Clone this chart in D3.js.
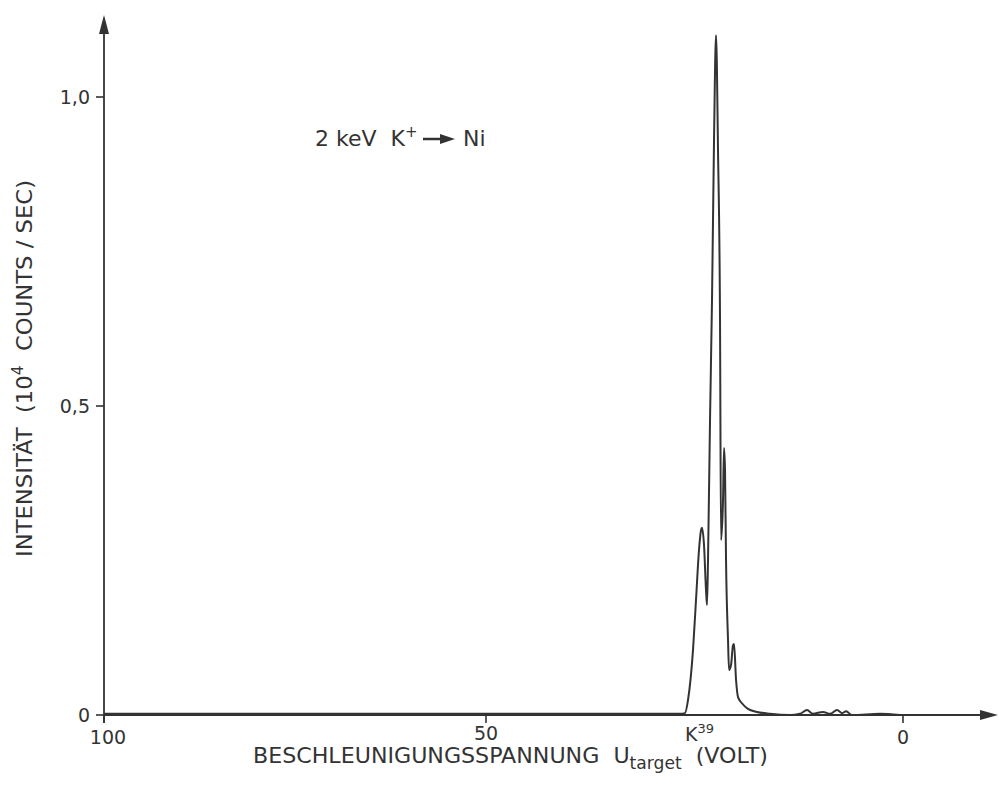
<!DOCTYPE html><meta charset="utf-8">
<title>2 keV K+ -> Ni</title>
<style>
  body{margin:0;background:#fff}
  svg{display:block}
  text{font-family:"DejaVu Sans",sans-serif;fill:#333;white-space:pre}
</style>
<script src="https://d3js.org/d3.v7.min.js"></script>
<body><script>
// accelerating voltage U_target (V)
const voltage = [100, 80, 60, 40, 30, 26.74, 26.14, 25.78, 25.18, 24.82, 24.46, 24.22, 24.10,
  23.86, 23.62, 23.50, 23.38, 23.14, 22.90, 22.66, 22.42, 22.18, 21.94, 21.82, 21.58, 21.46,
  21.34, 21.22, 20.98, 20.86, 20.62, 20.38, 20.26, 20.02, 19.78, 19.31, 18.59, 17.51, 15.95,
  13.55, 12.35, 11.51, 10.79, 9.59, 8.75, 7.91, 7.31, 6.83, 6.12, 2.76, 0.36];
// intensity (10^4 counts/sec)
const intensity = [0.002, 0.002, 0.002, 0.002, 0.002, 0.002, 0.003, 0.024, 0.105, 0.186, 0.267, 0.299, 0.303,
  0.275, 0.202, 0.178, 0.251, 0.477, 0.672, 0.930, 1.100, 0.913, 0.639, 0.283, 0.348, 0.432,
  0.396, 0.251, 0.121, 0.073, 0.081, 0.113, 0.115, 0.057, 0.029, 0.019, 0.010, 0.005, 0.002,
  0.000, 0.002, 0.008, 0.002, 0.005, 0.002, 0.008, 0.003, 0.006, 0.000, 0.002, 0.000];

const xTicks = [100, 50, 0];
const yTicks = [0, 0.5, 1.0];
const yTickLabels = ["0", "0,5", "1,0"];

const W = 999, H = 793, ink = "#333";
const svg = d3.select("body").append("svg").attr("width", W).attr("height", H);

// the scanned axis is not quite linear, so use a polylinear scale
const x = d3.scaleLinear().domain([100, 50, 0]).range([104, 486, 903]);
const y = d3.scaleLinear().domain([0, 1]).range([715, 97]);

/* ---- axes with arrows ---- */
svg.append("line").attr("x1", x(100)).attr("x2", 984).attr("y1", y(0)).attr("y2", y(0))
  .attr("stroke", ink).attr("stroke-width", 1.8);
svg.append("path").attr("d", `M998,${y(0)} L980,${y(0)-5} L980,${y(0)+5} Z`).attr("fill", ink);
svg.append("line").attr("x1", x(100)).attr("x2", x(100)).attr("y1", y(0)+8).attr("y2", 30)
  .attr("stroke", ink).attr("stroke-width", 1.8);
svg.append("path").attr("d", `M${x(100)},15 L${x(100)-5},34 L${x(100)+5},34 Z`).attr("fill", ink);

// x ticks (down)
svg.selectAll(".xt").data(xTicks).enter().append("line")
  .attr("x1", d=>x(d)).attr("x2", d=>x(d)).attr("y1", y(0)).attr("y2", y(0)+8)
  .attr("stroke", ink).attr("stroke-width", 1.6);
svg.selectAll(".xl").data(xTicks).enter().append("text")
  .attr("x", d=>x(d) + (d===100 ? 4 : 0)).attr("y", d=>d===50 ? 740 : 744)
  .attr("text-anchor", "middle").attr("font-size", 19).text(d=>d);

// y ticks (left)
svg.selectAll(".yt").data(yTicks).enter().append("line")
  .attr("x1", x(100)-8).attr("x2", x(100)).attr("y1", d=>y(d)).attr("y2", d=>y(d))
  .attr("stroke", ink).attr("stroke-width", 1.6);
svg.selectAll(".yl").data(yTicks).enter().append("text")
  .attr("x", x(100)-14).attr("y", d=>y(d)+7)
  .attr("text-anchor", "end").attr("font-size", 19).text((d,i)=>yTickLabels[i]);

/* ---- trace ---- */
const pts = voltage.map((v,i)=>[v, intensity[i]]);
svg.append("path").datum(pts)
  .attr("d", d3.line().x(d=>x(d[0])).y(d=>y(d[1])).curve(d3.curveMonotoneX))
  .attr("fill", "none").attr("stroke", ink).attr("stroke-width", 2).attr("stroke-linejoin", "round");

/* ---- labels ---- */
const k39 = svg.append("text").attr("x", 685).attr("y", 741).attr("font-size", 19);
k39.append("tspan").text("K");
k39.append("tspan").attr("dy", -8).attr("font-size", 13).text("39");

const xt = svg.append("text").attr("x", 253).attr("y", 763).attr("font-size", 22)
  .attr("textLength", 515).attr("lengthAdjust", "spacingAndGlyphs");
xt.append("tspan").text("BESCHLEUNIGUNGSSPANNUNG  U");
xt.append("tspan").attr("dy", 6).attr("font-size", 17).text("target");
xt.append("tspan").attr("dy", -6).text("  (VOLT)");

const yt = svg.append("text").attr("transform", "translate(32,557) rotate(-90)")
  .attr("font-size", 22).attr("textLength", 377).attr("lengthAdjust", "spacingAndGlyphs");
yt.append("tspan").text("INTENSITÄT  (10");
yt.append("tspan").attr("dy", -9).attr("font-size", 15).text("4");
yt.append("tspan").attr("dy", 9).text("  COUNTS / SEC)");

const ann = svg.append("text").attr("x", 315).attr("y", 146).attr("font-size", 22);
ann.append("tspan").text("2 keV  K");
ann.append("tspan").attr("dy", -9).attr("font-size", 15).text("+");
svg.append("line").attr("x1", 423).attr("x2", 442).attr("y1", 139).attr("y2", 139)
  .attr("stroke", ink).attr("stroke-width", 2.5);
svg.append("path").attr("d", "M455,139 L440,134 L440,144 Z").attr("fill", ink);
svg.append("text").attr("x", 463).attr("y", 146).attr("font-size", 22).text("Ni");
</script>
